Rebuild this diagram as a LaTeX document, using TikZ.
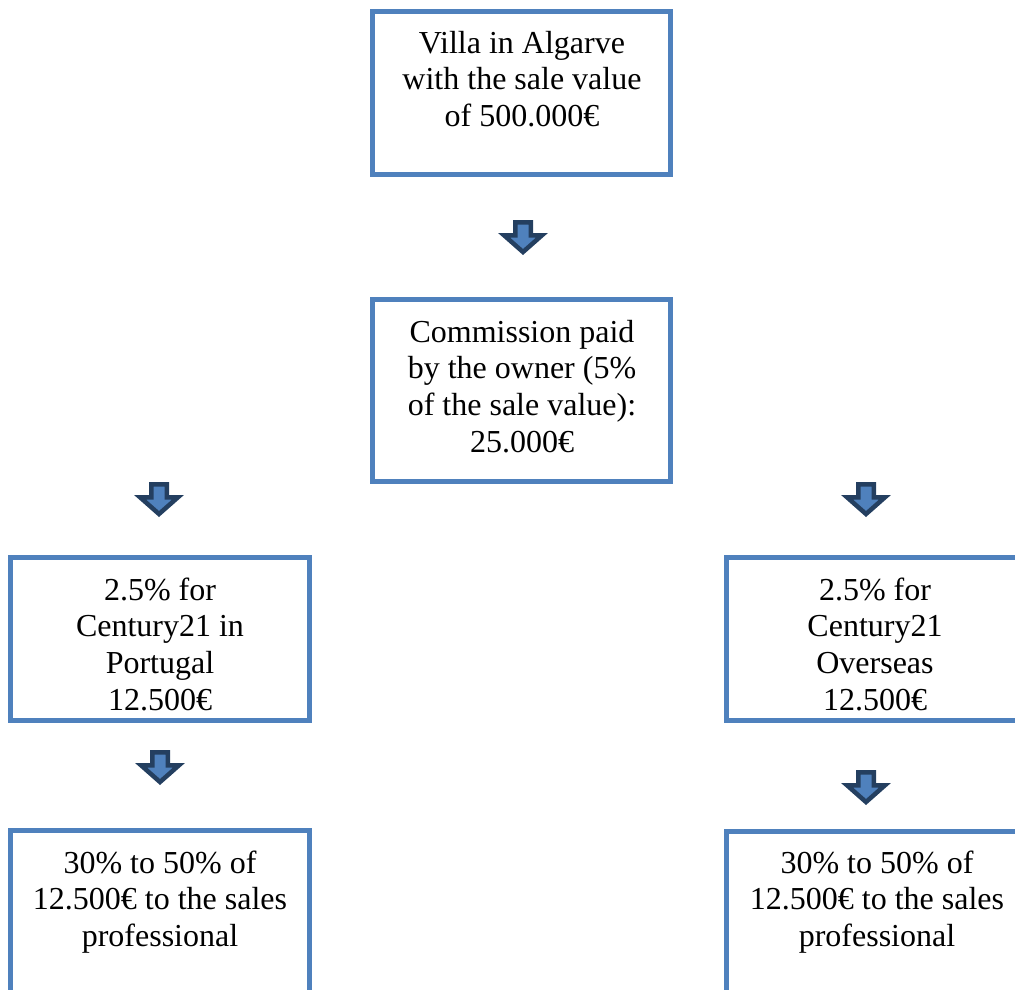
\documentclass[tikz,border=0pt]{standalone}
\usepackage{fontspec}
\setmainfont{Liberation Serif}
\definecolor{boxblue}{HTML}{4F81BD}
\definecolor{arrdark}{HTML}{243F60}
\tikzset{
  box/.style={draw=boxblue, line width=5pt, rectangle, inner sep=0pt},
  txt/.style={align=center, inner sep=0pt, anchor=north, font=\fontsize{32}{36.7}\selectfont},
  darr/.pic={\path[fill=boxblue, draw=arrdark, line width=4.5pt, line join=miter, miter limit=10]
     (-7.75,2.25) -- (7.75,2.25) -- (7.75,15.25) -- (19,15.25) -- (0,32) -- (-19,15.25) -- (-7.75,15.25) -- cycle;}
}
\begin{document}
\begin{tikzpicture}[x=1pt,y=-1pt]
\useasboundingbox (0,0) rectangle (1015,990);
\clip (0,0) rectangle (1015,990);
% boxes
\node[box, minimum width=298pt, minimum height=163pt] (b1) at (521.5,93) {};
\node[box, minimum width=298pt, minimum height=182pt] (b2) at (521.5,390.5) {};
\node[box, minimum width=299pt, minimum height=163pt] (b3) at (160,639) {};
\node[box, minimum width=299pt, minimum height=163pt] (b4) at (876,639) {};
\node[box, minimum width=299pt, minimum height=180pt] (b5) at (160,920.5) {};
\node[box, minimum width=299pt, minimum height=180pt] (b6) at (876,921) {};
% texts
\node[txt] (t1) at (522,27.3) {\strut Villa in Algarve\\with the sale value\\of 500.000€};
\node[txt] (t2) at (522,316.3) {\strut Commission paid\\by the owner (5\%\\of the sale value):\\25.000€};
\node[txt] (t3) at (160,574.3) {\strut 2.5\% for\\Century21 in\\Portugal\\12.500€};
\node[txt] (t4) at (875,574.3) {\strut 2.5\% for\\Century21\\Overseas\\12.500€};
\node[txt] (t5) at (160,847.3) {\strut 30\% to 50\% of\\12.500€ to the sales\\professional};
\node[txt] (t6) at (877,847.3) {\strut 30\% to 50\% of\\12.500€ to the sales\\professional};
% block arrows
\pic (a1) at (523,220) {darr};
\pic (a2) at (159,482) {darr};
\pic (a3) at (866,482) {darr};
\pic (a4) at (160,750) {darr};
\pic (a5) at (866,770) {darr};
\end{tikzpicture}
\end{document}
